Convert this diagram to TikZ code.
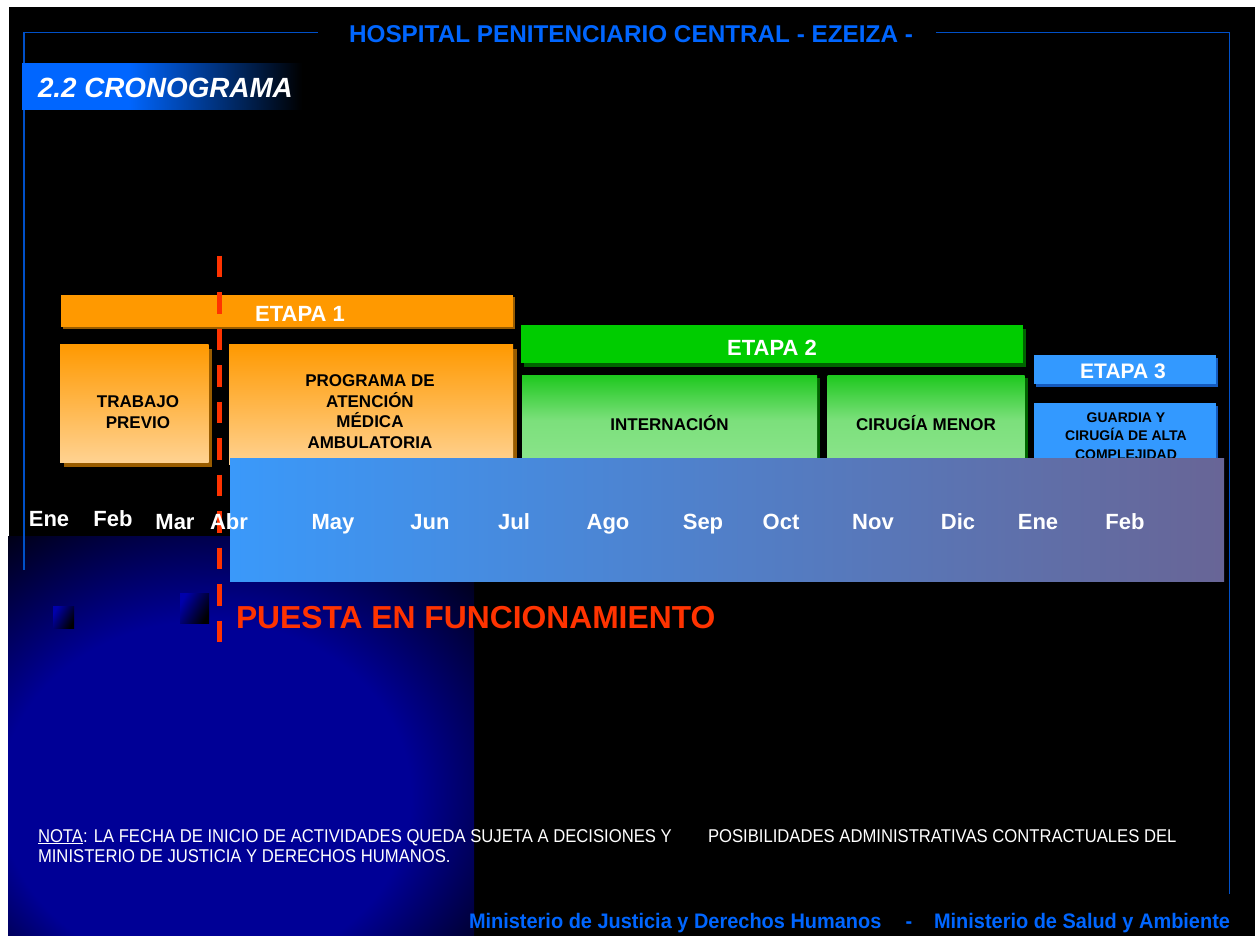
\documentclass[tikz,border=0pt]{standalone}
\usepackage{fontspec}
\setmainfont{Liberation Sans}
\newfontfamily\notafont[FakeStretch=0.9]{Liberation Sans}
\newfontfamily\footfont[FakeStretch=0.95]{Liberation Sans}
\usetikzlibrary{shadows}
\definecolor{framec}{RGB}{0,80,200}
\definecolor{titlec}{RGB}{0,102,255}
\definecolor{orangec}{RGB}{255,153,0}
\definecolor{peachc}{RGB}{255,210,145}
\definecolor{orshadow}{RGB}{153,92,0}
\definecolor{greenc}{RGB}{0,204,0}
\definecolor{greentop}{RGB}{30,200,30}
\definecolor{greenbot}{RGB}{140,228,140}
\definecolor{grshadow}{RGB}{0,100,0}
\definecolor{bluec}{RGB}{51,153,255}
\definecolor{blshadow}{RGB}{20,90,190}
\definecolor{barleft}{RGB}{58,153,250}
\definecolor{barright}{RGB}{104,101,150}
\definecolor{navyc}{RGB}{0,0,150}
\definecolor{redc}{RGB}{255,51,0}
\pgfdeclareradialshading{navyglow}{\pgfpoint{-6bp}{-12bp}}{color(0bp)=(navyc); color(22bp)=(navyc); color(40bp)=(black); color(60bp)=(black)}
\pgfdeclarehorizontalshading{cronoshade}{100bp}{color(0bp)=(titlec); color(25bp)=(titlec); color(44bp)=(titlec); color(75bp)=(black); color(100bp)=(black)}
\begin{document}
\begin{tikzpicture}[x=1pt,y=-1pt,
  every node/.style={inner sep=0pt, outer sep=0pt},
  frameline/.style={draw=framec, line width=1.5pt},
  box/.style={rectangle, anchor=north west},
  orbar/.style={box, fill=orangec, drop shadow={shadow xshift=2pt, shadow yshift=-2pt, fill=orshadow, opacity=1}},
  orbox/.style={box, top color=orangec, bottom color=peachc, drop shadow={shadow xshift=3.5pt, shadow yshift=-5pt, fill=orshadow, opacity=1}},
  grbar/.style={box, fill=greenc, drop shadow={shadow xshift=3pt, shadow yshift=-4pt, fill=grshadow, opacity=1}},
  grbox/.style={box, top color=greentop, bottom color=greenbot, middle color=greenbot!85!greentop, drop shadow={shadow xshift=3pt, shadow yshift=-3pt, fill=grshadow, opacity=1}},
  blbar/.style={box, fill=bluec, drop shadow={shadow xshift=2pt, shadow yshift=-3pt, fill=blshadow, opacity=1}},
  bartxt/.style={text=white, font=\bfseries\fontsize{22}{26}\selectfont, anchor=base},
  boxtxt/.style={text=black, font=\bfseries\fontsize{17}{20.6}\selectfont, align=center},
  smalltxt/.style={text=black, font=\bfseries\fontsize{14}{18.2}\selectfont, align=center},
  month/.style={text=white, font=\bfseries\fontsize{22}{26}\selectfont, anchor=base},
  notatxt/.style={text=white, font=\notafont\fontsize{18.5}{20}\selectfont, anchor=base west},
  foottxt/.style={text=titlec, font=\footfont\bfseries\fontsize{21}{24}\selectfont},
  deco/.style={left color=navyc!80!blue, right color=black, shading angle=60}
]
\fill[white] (0,0) rectangle (1257,936);
\useasboundingbox (0,0) rectangle (1257,936);
\fill[black] (9,7) rectangle (1255,936);
\shade[shading=navyglow] (8,536) rectangle (474,936);
\shade[deco] (53,606) rectangle (74,628);
\shade[deco] (180,593) rectangle (209,623);

% frame
\coordinate (fl1) at (24,570);
\coordinate (fl2) at (24,32.5);
\coordinate (fl3) at (318,32.5);
\coordinate (fr1) at (936,32.5);
\coordinate (fr2) at (1229.5,32.5);
\coordinate (fr3) at (1229.5,894);
\draw[frameline] (fl1) -- (fl2) -- (fl3);
\draw[frameline] (fr1) -- (fr2) -- (fr3);

\node[text=titlec, font=\bfseries\fontsize{24.3}{28}\selectfont, anchor=base] (title) at (631,43) {HOSPITAL PENITENCIARIO CENTRAL - EZEIZA -};

\node[box, shading=cronoshade, minimum width=280pt, minimum height=46pt] (crono) at (22,64) {};
\node[text=white, font=\bfseries\itshape\fontsize{27.8}{30}\selectfont, anchor=base west] (cronotxt) at (38,98) {2.2 CRONOGRAMA};

% etapa 1
\node[orbar, minimum width=452pt, minimum height=32pt] (e1) at (61,295) {};
\node[bartxt] (e1t) at (300,321) {ETAPA 1};
\node[orbox, minimum width=148.5pt, minimum height=118pt] (trab) at (60,344) {};
\node[boxtxt] (trabt) at (138,412) {TRABAJO\\PREVIO};
\node[orbox, minimum width=284pt, minimum height=120pt] (prog) at (229,344) {};
\node[boxtxt] (progt) at (370,411.5) {PROGRAMA DE\\ATENCIÓN\\MÉDICA\\AMBULATORIA};

% etapa 2
\node[grbar, minimum width=502pt, minimum height=38pt] (e2) at (521,325) {};
\node[bartxt] (e2t) at (772,355) {ETAPA 2};
\node[grbox, minimum width=295pt, minimum height=90pt] (intern) at (522,375) {};
\node[boxtxt, anchor=base] (internt) at (669.5,430) {INTERNACIÓN};
\node[grbox, minimum width=197pt, minimum height=90pt] (cirug) at (827.5,375) {};
\node[boxtxt, anchor=base] (cirugt) at (926,430) {CIRUGÍA MENOR};

% etapa 3
\node[blbar, minimum width=182pt, minimum height=29pt] (e3) at (1034,355) {};
\node[bartxt, font=\bfseries\fontsize{21}{26}\selectfont] (e3t) at (1123,378) {ETAPA 3};
\node[blbar, minimum width=182pt, minimum height=60pt] (guard) at (1034,402.5) {};
\node[smalltxt] (guardt) at (1126,436) {GUARDIA Y\\CIRUGÍA DE ALTA\\COMPLEJIDAD};

% month bar
\node[box, left color=barleft, right color=barright, minimum width=994pt, minimum height=123pt] (mbar) at (230,458) {};

% dashed line
\coordinate (dtop) at (219,255.5);
\coordinate (dbot) at (219,642);
\draw[redc, line width=5pt, dash pattern=on 21.5pt off 15pt] (dtop) -- (dbot);

% months
\node[month] (m1) at (49,526) {Ene};
\node[month] (m2) at (113,526) {Feb};
\node[month] (m3) at (175,529) {Mar};
\node[month] (m4) at (229,529) {Abr};
\node[month] (m5) at (333,529) {May};
\node[month] (m6) at (430,529) {Jun};
\node[month] (m7) at (514,529) {Jul};
\node[month] (m8) at (608,529) {Ago};
\node[month] (m9) at (703,529) {Sep};
\node[month] (m10) at (781,529) {Oct};
\node[month] (m11) at (873,529) {Nov};
\node[month] (m12) at (958,529) {Dic};
\node[month] (m13) at (1038,529) {Ene};
\node[month] (m14) at (1125,529) {Feb};

\node[text=redc, font=\bfseries\fontsize{31.8}{34}\selectfont, anchor=base west] (puesta) at (236,628) {PUESTA EN FUNCIONAMIENTO};

% nota
\node[notatxt] (nota1) at (38,842) {\underline{NOTA}: LA FECHA DE INICIO DE ACTIVIDADES QUEDA SUJETA A DECISIONES Y};
\node[notatxt] (nota2) at (708,842) {POSIBILIDADES ADMINISTRATIVAS CONTRACTUALES DEL};
\node[notatxt] (nota3) at (38,862) {MINISTERIO DE JUSTICIA Y DERECHOS HUMANOS.};

% footer
\node[foottxt, anchor=base west] (f1) at (469,928) {Ministerio de Justicia y Derechos Humanos};
\node[foottxt, anchor=base] (f2) at (909,928) {-};
\node[foottxt, anchor=base east] (f3) at (1230,928) {Ministerio de Salud y Ambiente};
\end{tikzpicture}
\end{document}
